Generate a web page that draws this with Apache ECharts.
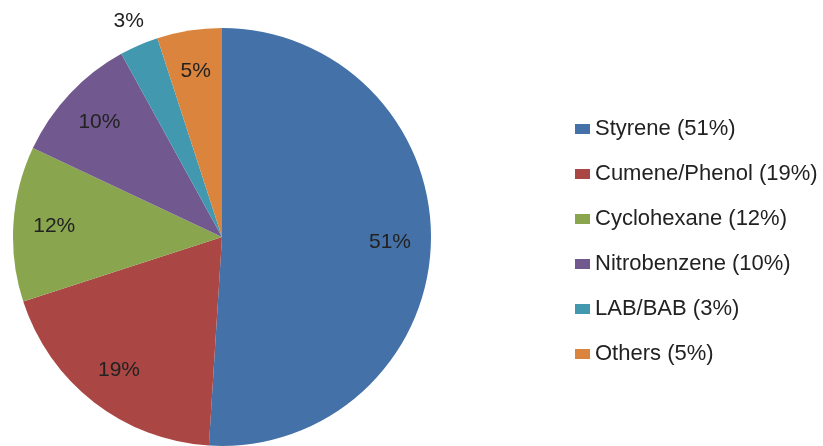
<!DOCTYPE html>
<html>
<head>
<meta charset="utf-8">
<script src="https://cdn.jsdelivr.net/npm/echarts@6/dist/echarts.min.js"></script>
<style>
    html, body { margin: 0; padding: 0; background: #fff; }
    #main { width: 823px; height: 446px; }
</style>
</head>
<body>
<div id="main"></div>
<script>
    // data
    var names = ['Styrene', 'Cumene/Phenol', 'Cyclohexane', 'Nitrobenzene', 'LAB/BAB', 'Others'];
    var shares = [51, 19, 12, 10, 3, 5];
    var colors = ['#4472A8', '#AA4643', '#89A54E', '#71588F', '#4198AF', '#DB843D'];
    var outsideLabels = ['LAB/BAB'];

    var cx = 222, cy = 237, R = 209;
    var font = 'Liberation Sans, Arial, sans-serif';

    var pieData = names.map(function (n, i) {
        return {name: n, value: shares[i], itemStyle: {color: colors[i]}};
    });
    // invisible rings, only used to place the percentage labels
    var innerLabels = names.map(function (n, i) {
        return {name: n, value: shares[i], label: {show: outsideLabels.indexOf(n) < 0}};
    });
    var outerLabels = names.map(function (n, i) {
        return {name: n, value: shares[i], label: {show: outsideLabels.indexOf(n) >= 0}};
    });

    var labelStyle = {
        position: 'inside',
        formatter: '{c}%',
        color: '#222',
        fontFamily: font,
        fontSize: 21,
        rotate: 0
    };
    var ghost = {color: 'rgba(0,0,0,0)', borderWidth: 0};

    var chart = echarts.init(document.getElementById('main'));
    chart.setOption({
        animation: false,
        legend: {
            data: names,
            orient: 'vertical',
            left: 570,
            top: 113,
            itemWidth: 15,
            itemHeight: 10,
            itemGap: 23,
            icon: 'rect',
            textStyle: {color: '#222', fontFamily: font, fontSize: 22},
            formatter: function (n) {
                return n + ' (' + shares[names.indexOf(n)] + '%)';
            }
        },
        series: [
            {
                type: 'pie',
                center: [cx, cy],
                radius: [0, R],
                startAngle: 90,
                clockwise: true,
                avoidLabelOverlap: false,
                label: {show: false},
                labelLine: {show: false},
                itemStyle: {borderWidth: 0},
                emphasis: {disabled: true},
                data: pieData
            },
            {
                type: 'pie',
                center: [cx, cy],
                radius: [R * 0.58, R],
                startAngle: 90,
                silent: true,
                avoidLabelOverlap: false,
                itemStyle: ghost,
                label: labelStyle,
                labelLine: {show: false},
                data: innerLabels
            },
            {
                type: 'pie',
                center: [cx, cy],
                radius: [R, R * 1.22],
                startAngle: 90,
                silent: true,
                avoidLabelOverlap: false,
                itemStyle: ghost,
                label: labelStyle,
                labelLine: {show: false},
                data: outerLabels
            }
        ]
    });
</script>
</body>
</html>
